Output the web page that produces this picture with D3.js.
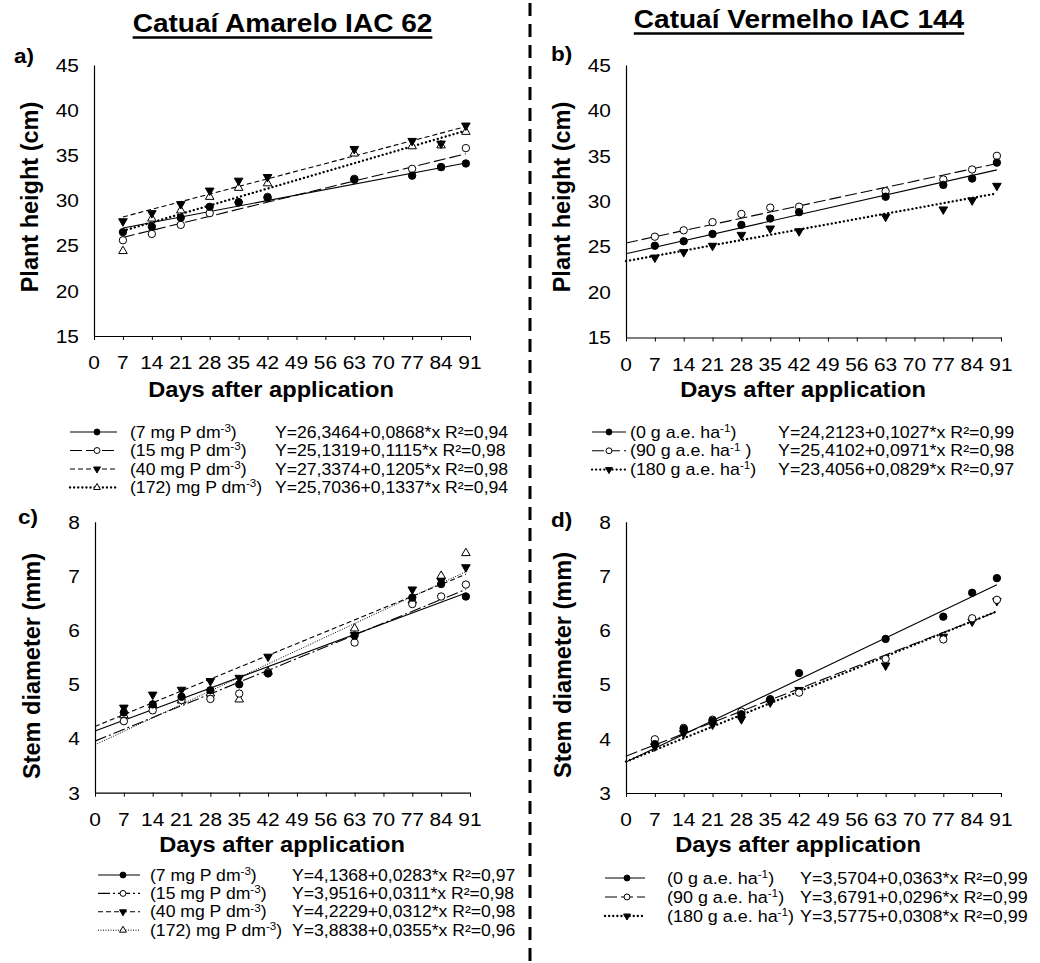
<!DOCTYPE html>
<html><head><meta charset="utf-8">
<script src="https://cdn.jsdelivr.net/npm/d3@7"></script>
<style>
body{margin:0;background:#fff}
svg{display:block}
text{font-family:"Liberation Sans",Arial,Helvetica,sans-serif;fill:#000}
</style>
</head><body>
<svg id="chart" width="1040" height="963"></svg>
<script>
// ---------------- DATA ----------------
const days = [7, 14, 21, 28, 35, 42, 63, 77, 84, 90];
const xTickValues = [0, 7, 14, 21, 28, 35, 42, 49, 56, 63, 70, 77, 84, 91];
const heightTicks = [15, 20, 25, 30, 35, 40, 45];
const diameterTicks = [3, 4, 5, 6, 7, 8];

const cultivarTitles = ["Catuaí Amarelo IAC 62", "Catuaí Vermelho IAC 144"];
const panelLetters = ["a)", "b)", "c)", "d)"];
const yAxisTitles = ["Plant height (cm)", "Plant height (cm)", "Stem diameter (mm)", "Stem diameter (mm)"];
const xAxisTitle = "Days after application";

// Panel a: plant height, Catuaí Amarelo (P doses)
const aLabels = ["(7 mg P dm^{-3})", "(15 mg P dm^{-3})", "(40 mg P dm^{-3})", "(172) mg P dm^{-3})"];
const aP7   = [26.5, 27.1, 28.1, 29.3, 29.8, 30.3, 32.3, 32.75, 33.7, 34.1];
const aP15  = [25.6, 26.3, 27.3, 28.6, 29.8, 30.4, 32.4, 33.5, 33.7, 35.8];
const aP40  = [27.7, 28.6, 29.6, 31.1, 32.2, 32.6, 35.7, 36.6, 36.3, 38.3];
const aP172 = [24.4, 28.0, 28.9, 30.4, 31.4, 31.9, 35.2, 36.0, 36.1, 37.6];
const aIntercepts = [26.3464, 25.1319, 27.3374, 25.7036];
const aSlopes     = [0.0868, 0.1115, 0.1205, 0.1337];
const aR2         = [0.94, 0.98, 0.98, 0.94];

// Panel b: plant height, Catuaí Vermelho (herbicide doses)
const bLabels = ["(0 g a.e. ha^{-1})", "(90 g a.e. ha^{-1} )", "(180 g a.e. ha^{-1})"];
const bD0   = [25.1, 25.6, 26.4, 27.4, 28.1, 28.8, 30.5, 31.8, 32.5, 34.25];
const bD90  = [26.1, 26.8, 27.7, 28.6, 29.3, 29.4, 31.1, 32.4, 33.5, 35.0];
const bD180 = [23.8, 24.4, 25.1, 26.3, 27.0, 26.7, 28.3, 29.1, 30.1, 31.7];
const bIntercepts = [24.2123, 25.4102, 23.4056];
const bSlopes     = [0.1027, 0.0971, 0.0829];
const bR2         = [0.99, 0.98, 0.97];

// Panel c: stem diameter, Catuaí Amarelo
const cLabels = ["(7 mg P dm^{-3})", "(15 mg P dm^{-3})", "(40 mg P dm^{-3})", "(172) mg P dm^{-3})"];
const cP7   = [4.48, 4.63, 4.77, 4.89, 5.0, 5.2, 5.9, 6.6, 6.85, 6.62];
const cP15  = [4.32, 4.52, 4.71, 4.73, 4.83, 5.22, 5.77, 6.48, 6.62, 6.84];
const cP40  = [4.57, 4.81, 4.9, 5.06, 5.12, 5.51, 5.91, 6.75, 6.91, 7.16];
const cP172 = [4.43, 4.62, 4.70, 4.83, 4.72, 5.23, 6.03, 6.55, 7.0, 7.42];
const cIntercepts = [4.1368, 3.9516, 4.2229, 3.8838];
const cSlopes     = [0.0283, 0.0311, 0.0312, 0.0355];
const cR2         = [0.97, 0.98, 0.98, 0.96];

// Panel d: stem diameter, Catuaí Vermelho
const dLabels = ["(0 g a.e. ha^{-1})", "(90 g a.e. ha^{-1})", "(180 g a.e. ha^{-1})"];
const dD0   = [3.9, 4.18, 4.33, 4.45, 4.72, 5.21, 5.84, 6.25, 6.69, 6.96];
const dD90  = [3.99, 4.2, 4.35, 4.5, 4.73, 4.85, 5.47, 5.83, 6.22, 6.56];
const dD180 = [3.86, 4.1, 4.26, 4.36, 4.67, 4.9, 5.35, 5.88, 6.16, 6.54];
const dIntercepts = [3.5704, 3.6791, 3.5775];
const dSlopes     = [0.0363, 0.0296, 0.0308];
const dR2         = [0.99, 0.99, 0.99];

// ---------------- STYLE / LAYOUT ----------------
const SX = 1.1; // horizontal text stretch of the original image
const FONT_TICK = 19, FONT_XT = 21.5, FONT_YT = 23.5, FONT_TITLE = 25.5, FONT_LET = 20.5;

const lineStyles = {
  solid:     {dash: null, w: 1.1, cap: "butt"},
  longdash:  {dash: "12,4", w: 1.1, cap: "butt"},
  shortdash: {dash: "5,3", w: 1.1, cap: "butt"},
  dot:       {dash: "0.1,4", w: 2.3, cap: "round"},
  dashdot:   {dash: "12,3,2,3", w: 1.1, cap: "butt"},
  finedot:   {dash: "1,1.5", w: 1, cap: "butt"}
};

const panels = [
  {x0: 94, x1: 470, yTop: 65, yBot: 336, domain: [15, 45], ticks: heightTicks, lineStart: 7,
   series: [aP7, aP15, aP40, aP172], ints: aIntercepts, slopes: aSlopes, r2: aR2, labels: aLabels,
   markers: ["fcircle", "ocircle", "ftridown", "otriup"], styles: ["solid", "longdash", "shortdash", "dot"],
   letter: [14, 63], ytitle: [30, 197], xtitleX: 271, xtitleY: 397,
   leg: {y0: 432, dy: 18.5, s0: 70, s1: 117, mx: 97, lx: 130, ex: 275, font: 16}},
  {x0: 626, x1: 1001, yTop: 65, yBot: 337.5, domain: [15, 45], ticks: heightTicks, lineStart: 0,
   series: [bD0, bD90, bD180], ints: bIntercepts, slopes: bSlopes, r2: bR2, labels: bLabels,
   markers: ["fcircle", "ocircle", "ftridown"], styles: ["solid", "longdash", "dot"],
   letter: [551, 61], ytitle: [562, 197], xtitleX: 803, xtitleY: 397,
   leg: {y0: 432, dy: 18.8, s0: 592, s1: 626, mx: 609, lx: 630, ex: 778, font: 16.2}},
  {x0: 95, x1: 470, yTop: 521.7, yBot: 792.7, domain: [3, 8], ticks: diameterTicks, lineStart: 0,
   series: [cP7, cP15, cP40, cP172], ints: cIntercepts, slopes: cSlopes, r2: cR2, labels: cLabels,
   markers: ["fcircle", "ocircle", "ftridown", "otriup"], styles: ["solid", "dashdot", "shortdash", "finedot"],
   letter: [18, 524], ytitle: [32, 666], xtitleX: 282, xtitleY: 852,
   leg: {y0: 875, dy: 18.4, s0: 98, s1: 140, mx: 123, lx: 150, ex: 292, font: 16}},
  {x0: 626, x1: 1001, yTop: 521.7, yBot: 793, domain: [3, 8], ticks: diameterTicks, lineStart: 0,
   series: [dD0, dD90, dD180], ints: dIntercepts, slopes: dSlopes, r2: dR2, labels: dLabels,
   markers: ["fcircle", "ocircle", "ftridown"], styles: ["solid", "longdash", "dot"],
   letter: [551, 527], ytitle: [563, 665], xtitleX: 798, xtitleY: 852,
   leg: {y0: 878, dy: 19, s0: 605, s1: 645, mx: 627, lx: 667, ex: 800, font: 16.3}}
];

const svg = d3.select("#chart");

function stext(parent, x, y, size, weight, anchor) {
  return parent.append("text")
    .attr("transform", `translate(${x},${y}) scale(${SX},1)`)
    .attr("text-anchor", anchor || "start")
    .style("font-size", size + "px")
    .style("font-weight", weight || "normal");
}

function richText(t, str, size) {
  const parts = str.split(/(\^\{[^}]*\})/).filter(s => s.length);
  const rise = size * 0.36;
  let raised = false;
  parts.forEach(p => {
    const m = p.match(/^\^\{([^}]*)\}$/);
    if (m) {
      t.append("tspan").attr("dy", -rise).style("font-size", (size * 0.66) + "px").text(m[1]);
      raised = true;
    } else {
      const ts = t.append("tspan").text(p);
      if (raised) { ts.attr("dy", rise); raised = false; }
    }
  });
  return t;
}

function drawMarker(g, type, cx, cy, small) {
  const k = small ? 0.8 : 1;
  if (type === "fcircle" || type === "ocircle") {
    g.append("circle").attr("cx", cx).attr("cy", cy).attr("r", 3.7 * k)
      .attr("fill", type === "fcircle" ? "#000" : "#fff")
      .attr("stroke", "#000").attr("stroke-width", 1);
  } else {
    const sym = d3.symbol().type(d3.symbolTriangle).size(32 * k * k);
    const down = type === "ftridown";
    g.append("path").attr("d", sym())
      .attr("transform", `translate(${cx},${cy}) rotate(${down ? 180 : 0})`)
      .attr("fill", down ? "#000" : "#fff")
      .attr("stroke", "#000").attr("stroke-width", 1);
  }
}

function applyStyle(sel, name) {
  const s = lineStyles[name];
  sel.attr("fill", "none").attr("stroke", "#000").attr("stroke-width", s.w).attr("stroke-linecap", s.cap);
  if (s.dash) sel.attr("stroke-dasharray", s.dash);
  return sel;
}

const fmt = (v, n) => v.toFixed(n).replace(".", ",");

panels.forEach((p, pi) => {
  const g = svg.append("g");
  const x = d3.scaleLinear().domain([0, 91]).range([p.x0, p.x1]);
  const y = d3.scaleLinear().domain(p.domain).range([p.yBot, p.yTop]);

  // axes
  const xa = g.append("g").attr("transform", `translate(0,${p.yBot})`)
    .call(d3.axisBottom(x).tickValues(xTickValues).tickSize(4).tickSizeOuter(0).tickFormat(d3.format("d")));
  xa.select(".domain").attr("stroke", "#000").attr("stroke-width", 1.2);
  xa.selectAll(".tick line").attr("stroke", "#000").attr("stroke-width", 1);
  xa.selectAll(".tick text").remove();
  xTickValues.forEach(v => {
    stext(g, x(v), p.yBot + 33, FONT_TICK, "normal", "middle").text(v);
  });

  const ya = g.append("g").attr("transform", `translate(${p.x0},0)`)
    .call(d3.axisLeft(y).tickValues(p.ticks).tickSize(0).tickSizeOuter(0));
  ya.select(".domain").attr("stroke", "#000").attr("stroke-width", 1.2);
  ya.selectAll(".tick text").remove();
  p.ticks.forEach(v => {
    stext(g, p.x0 - 15, y(v) + 6.8, FONT_TICK, "normal", "end").text(v);
  });

  // titles
  stext(g, p.xtitleX, p.xtitleY, FONT_XT, "bold", "middle").text(xAxisTitle);
  g.append("text")
    .attr("transform", `translate(${p.ytitle[0]},${p.ytitle[1]}) rotate(-90)`)
    .attr("text-anchor", "middle").attr("dy", "0.36em")
    .style("font-size", FONT_YT + "px").style("font-weight", "bold")
    .text(yAxisTitles[pi]);
  stext(g, p.letter[0], p.letter[1], FONT_LET, "bold", "start").text(panelLetters[pi]);

  // regression lines
  const line = d3.line().x(d => x(d[0])).y(d => y(d[1]));
  p.series.forEach((s, si) => {
    const a = p.ints[si], b = p.slopes[si];
    const pts = [p.lineStart, days[days.length - 1]].map(d => [d, a + b * d]);
    applyStyle(g.append("path").attr("d", line(pts)), p.styles[si]);
  });
  // points (draw in reverse so first series on top)
  for (let si = p.series.length - 1; si >= 0; si--) {
    p.series[si].forEach((v, i) => drawMarker(g, p.markers[si], x(days[i]), y(v), false));
  }

  // legend
  const L = p.leg;
  p.labels.forEach((lab, si) => {
    const ly = L.y0 + si * L.dy;
    applyStyle(g.append("line").attr("x1", L.s0).attr("x2", L.s1).attr("y1", ly).attr("y2", ly), p.styles[si]);
    drawMarker(g, p.markers[si], L.mx, ly, true);
    const t = richText(stext(g, L.lx, ly + L.font * 0.35, L.font, "normal", "start"), lab, L.font);
    const w = t.node().getComputedTextLength() * SX;
    const ex = Math.max(L.ex, L.lx + w + 5);
    stext(g, ex, ly + L.font * 0.35, L.font, "normal", "start")
      .text(`Y=${fmt(p.ints[si], 4)}+${fmt(p.slopes[si], 4)}*x R²=${fmt(p.r2[si], 2)}`);
  });
});

// cultivar titles with underline
[[282.5, 32, 37.5], [799, 28, 33.5]].forEach((pos, i) => {
  const t = stext(svg, pos[0], pos[1], FONT_TITLE, "bold", "middle").text(cultivarTitles[i]);
  const w = t.node().getComputedTextLength() * SX;
  svg.append("line").attr("x1", pos[0] - w / 2).attr("x2", pos[0] + w / 2)
    .attr("y1", pos[2]).attr("y2", pos[2]).attr("stroke", "#000").attr("stroke-width", 2.5);
});

// dashed divider
svg.append("line").attr("x1", 530).attr("x2", 530).attr("y1", 3).attr("y2", 963)
  .attr("stroke", "#000").attr("stroke-width", 3).attr("stroke-dasharray", "13,8");
</script>
</body></html>
